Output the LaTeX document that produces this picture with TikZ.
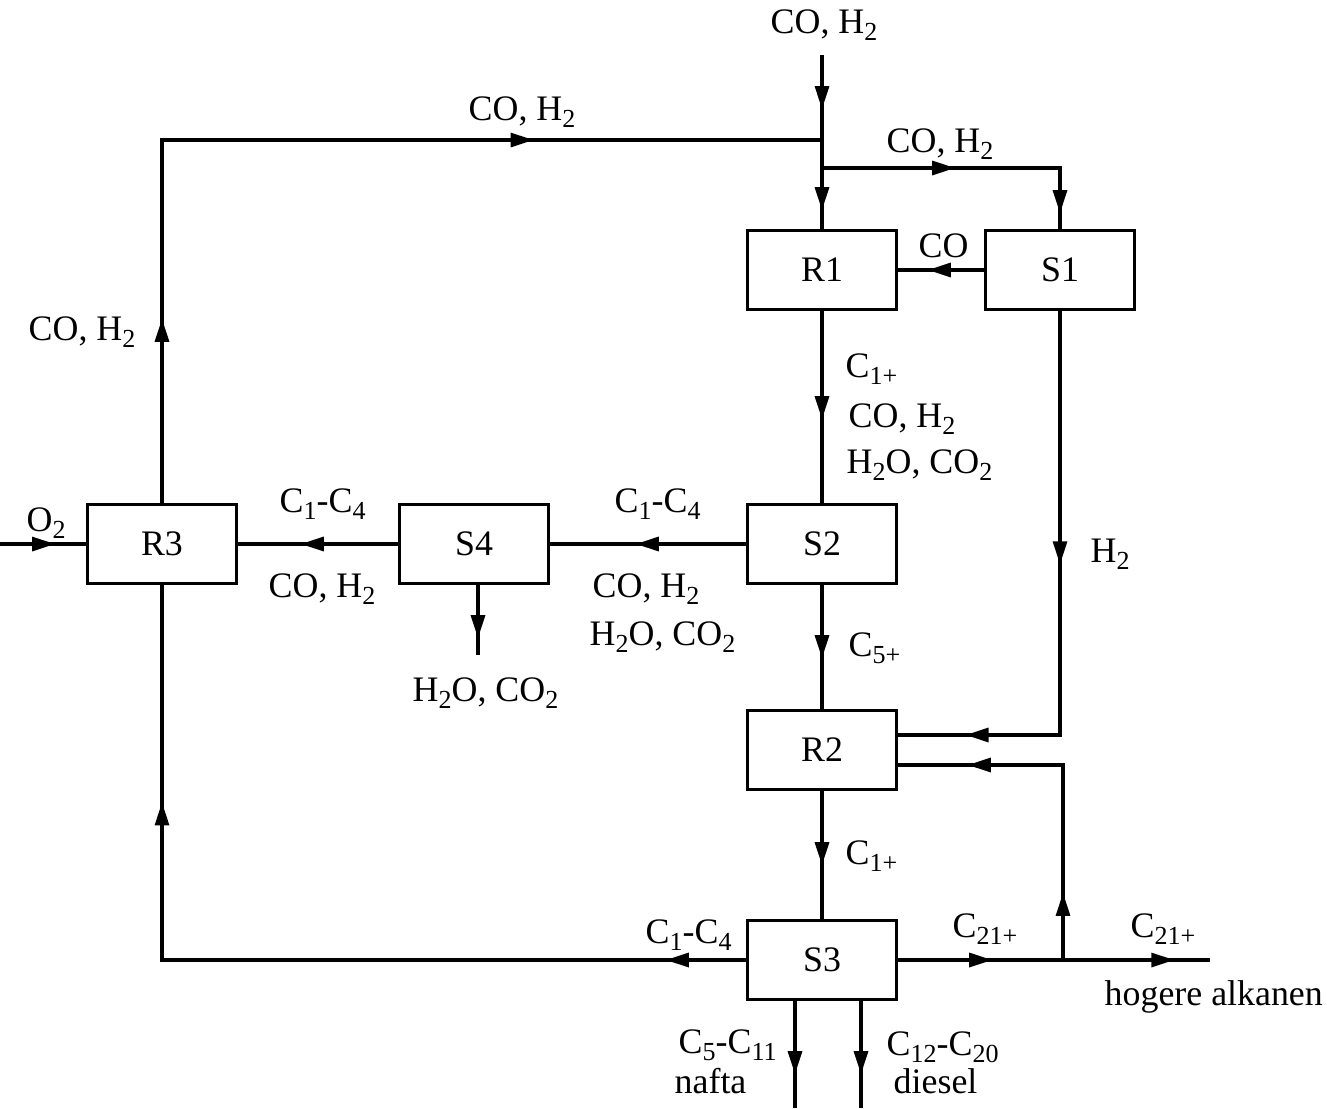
\documentclass[tikz,border=0pt]{standalone}
\usepackage{fontspec}
\setmainfont{Liberation Serif}
\usetikzlibrary{arrows.meta,decorations.markings,calc}
\newcommand{\subs}[1]{\raisebox{-0.22em}{\fontsize{7.4}{8}\selectfont #1}}
\tikzset{
  unit/.style={draw, line width=0.9pt, minimum width=1.49cm, minimum height=0.79cm, inner sep=0pt},
  lbl/.style={anchor=base west, inner sep=0pt},
  stream/.style={line width=0.9pt},
  arr/.style={postaction={decorate,decoration={markings,
      mark=at position #1 with {\arrow{Triangle[length=0.23cm,width=0.14cm]}}}}}
}
\begin{document}
\begin{tikzpicture}[x=0.01cm, y=-0.01cm, font=\fontsize{10.2}{12}\selectfont]
  \useasboundingbox (0,0) rectangle (1327,1108);
  % units
  \node[unit] (R1) at (822,270) {R1};
  \node[unit] (S1) at (1060,270) {S1};
  \node[unit] (S2) at (822,544) {S2};
  \node[unit] (R2) at (822,750) {R2};
  \node[unit] (S3) at (822,960) {S3};
  \node[unit] (S4) at (474,544) {S4};
  \node[unit] (R3) at (162,544) {R3};
  % free ends and junctions
  \coordinate (feed) at (822,55);
  \coordinate (j1) at (822,140);
  \coordinate (j2) at (822,168);
  \coordinate (o2) at (0,544);
  \coordinate (wout) at (478,655);
  \coordinate (hout) at (1210,960);
  \coordinate (j3) at (1063,960);
  \coordinate (r2a) at ($(R2.east)+(0,-15)$);
  \coordinate (r2b) at ($(R2.east)+(0,15)$);
  \coordinate (nout) at (795,1108);
  \coordinate (dout) at (861,1108);
  % streams
  \draw[stream, arr=0.54cm, arr=1.55cm] (feed) -- (R1.north);
  \draw[stream, arr=1.84cm, arr=7.34cm] (R3.north) |- (j1);
  \draw[stream, arr=1.33cm, arr=2.83cm] (j2) -| (S1.north);
  \draw[stream, arr=0.56cm] (S1.west) -- (R1.east);
  \draw[stream, arr=1.08cm] (R1.south) -- (S2.north);
  \draw[stream, arr=2.53cm, arr=5.18cm] (S1.south) |- (r2a);
  \draw[stream, arr=0.73cm] (S2.south) -- (R2.north);
  \draw[stream, arr=0.74cm] (R2.south) -- (S3.north);
  \draw[stream, arr=1.10cm] (S2.west) -- (S4.east);
  \draw[stream, arr=0.97cm] (S4.west) -- (R3.east);
  \draw[stream, arr=0.53cm] (S4.south -| wout) -- (wout);
  \draw[stream, arr=0.55cm] (o2) -- (R3.west);
  \draw[stream, arr=0.80cm, arr=7.41cm] (S3.west) -| (R3.south);
  \draw[stream, arr=0.94cm, arr=2.76cm] (S3.east) -- (hout);
  \draw[stream, arr=0.67cm, arr=2.90cm] (j3) |- (r2b);
  \draw[stream, arr=0.73cm] (S3.south -| nout) -- (nout);
  \draw[stream, arr=0.73cm] (S3.south -| dout) -- (dout);
  % labels
  \node[lbl] (lfeed) at (770,33) {CO, H\subs{2}};
  \node[lbl] (lrec) at (468,120) {CO, H\subs{2}};
  \node[lbl] (lbr) at (886,152) {CO, H\subs{2}};
  \node[lbl] (lco) at (918,257) {CO};
  \node[lbl] (lleft) at (28,340) {CO, H\subs{2}};
  \node[lbl] (lr1a) at (845,377) {C\subs{1+}};
  \node[lbl] (lr1b) at (848,427) {CO, H\subs{2}};
  \node[lbl] (lr1c) at (846,473) {H\subs{2}O, CO\subs{2}};
  \node[lbl] (ls2a) at (614,512) {C\subs{1}-C\subs{4}};
  \node[lbl] (ls2b) at (592,597) {CO, H\subs{2}};
  \node[lbl] (ls2c) at (589,645) {H\subs{2}O, CO\subs{2}};
  \node[lbl] (ls4a) at (279,512) {C\subs{1}-C\subs{4}};
  \node[lbl] (ls4b) at (268,597) {CO, H\subs{2}};
  \node[lbl] (ls4c) at (412,701) {H\subs{2}O, CO\subs{2}};
  \node[lbl] (lo2) at (26,531) {O\subs{2}};
  \node[lbl] (lh2) at (1090,562) {H\subs{2}};
  \node[lbl] (lc5) at (848,656) {C\subs{5+}};
  \node[lbl] (lc1) at (845,864) {C\subs{1+}};
  \node[lbl] (ls3a) at (645,943) {C\subs{1}-C\subs{4}};
  \node[lbl] (ls3b) at (952,937) {C\subs{21+}};
  \node[lbl] (ls3c) at (1130,937) {C\subs{21+}};
  \node[lbl] (lhog) at (1104,1005) {hogere alkanen};
  \node[lbl] (lnaf) at (678,1053) {C\subs{5}-C\subs{11}};
  \node[lbl] (lnafb) at (674,1093) {nafta};
  \node[lbl] (ldie) at (886,1055) {C\subs{12}-C\subs{20}};
  \node[lbl] (ldieb) at (893,1093) {diesel};
\end{tikzpicture}
\end{document}
